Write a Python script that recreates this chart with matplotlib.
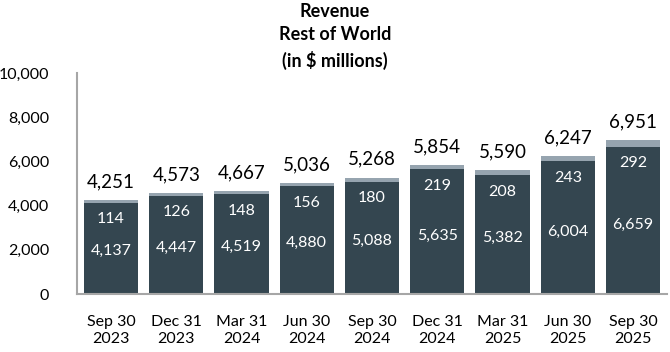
import matplotlib
matplotlib.use("Agg")
import matplotlib.pyplot as plt

# === Data ===
quarters = ["Sep 30\n2023", "Dec 31\n2023", "Mar 31\n2024", "Jun 30\n2024", "Sep 30\n2024",
            "Dec 31\n2024", "Mar 31\n2025", "Jun 30\n2025", "Sep 30\n2025"]
base_rev = [4137, 4447, 4519, 4880, 5088, 5635, 5382, 6004, 6659]
top_rev = [114, 126, 148, 156, 180, 219, 208, 243, 292]
totals = [4251, 4573, 4667, 5036, 5268, 5854, 5590, 6247, 6951]

DARK = "#344650"
LIGHT = "#96A4AF"
AXIS = "#A6A6A6"

plt.rcParams['font.family'] = ['Lato', 'DejaVu Sans']

fig = plt.figure(figsize=(6.7, 3.52), dpi=100)
ax = fig.add_axes([77 / 670, 1 - 294 / 352, 590 / 670, 221 / 352])

x = list(range(len(quarters)))
ax.bar(x, base_rev, width=0.83, color=DARK, zorder=2)
ax.bar(x, top_rev, width=0.83, bottom=base_rev, color=LIGHT, zorder=2)

# === Labels ===
for i in x:
    ax.text(i, base_rev[i] * 0.47, f"{base_rev[i]:,}", ha="center", va="center",
            color="white", fontsize=11.5)
    ax.text(i, base_rev[i] - 750, f"{top_rev[i]:,}", ha="center", va="center",
            color="white", fontsize=11.5)
    ax.annotate(f"{totals[i]:,}", (i, totals[i]), xytext=(0, 7), textcoords="offset points",
                ha="center", va="bottom", fontsize=13.5, color="black")

ax.set_xlim(-0.52, 8.52)
ax.set_ylim(0, 10000)
ax.set_yticks(range(0, 10001, 2000))
ax.set_yticklabels([f"{v:,}" for v in range(0, 10001, 2000)])
ax.set_xticks(x)
ax.set_xticklabels(quarters, linespacing=1.25)
ax.tick_params(axis="both", length=0, labelsize=11.5, colors="black")
ax.tick_params(axis="y", pad=20)
ax.tick_params(axis="x", pad=15)

for side in ["top", "right"]:
    ax.spines[side].set_visible(False)
for side in ["left", "bottom"]:
    ax.spines[side].set_color(AXIS)
    ax.spines[side].set_linewidth(1.5)

fig.text(335 / 670, 1 - 3 / 352, "Revenue\nRest of World\n(in $ millions)", ha="center", va="top",
         fontsize=13, fontweight="bold", linespacing=1.45)

fig.savefig("out.png", dpi=100)
